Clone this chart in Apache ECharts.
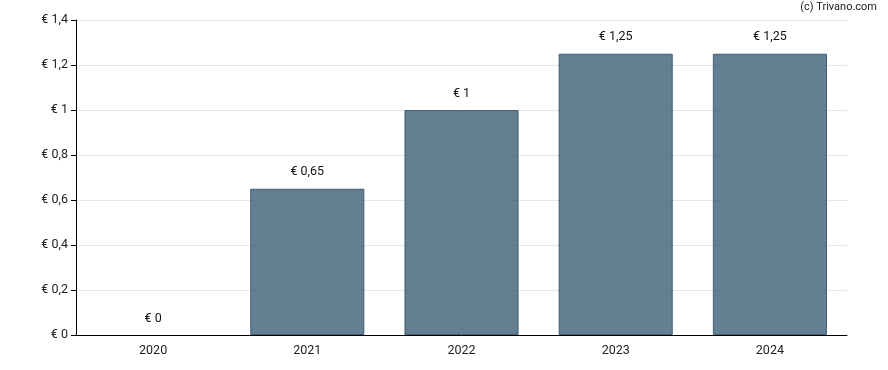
<!DOCTYPE html>
<html><head><meta charset="utf-8">
<script src="https://cdn.jsdelivr.net/npm/echarts@6/dist/echarts.min.js"></script>
<style>html,body{margin:0;padding:0;background:#fff}#c{width:888px;height:370px}</style>
</head><body><div id="c"></div>
<script>
var categories = ['2020','2021','2022','2023','2024'];
var values = [0, 0.65, 1, 1.25, 1.25];
var yTicks = [0, 0.2, 0.4, 0.6, 0.8, 1, 1.2, 1.4];

function fmt(v){ return '€ ' + String(Math.round(v*100)/100).replace('.', ','); }

var chart = echarts.init(document.getElementById('c'), null, {renderer:'canvas'});
chart.setOption({
  animation:false,
  textStyle:{fontFamily:'Roboto'},
  graphic:[{type:'text', right:11, top:2, style:{text:'(c) Trivano.com', font:'11px Roboto', fill:'#222'}}],
  grid:{left:76, right:41, top:20, bottom:35},
  xAxis:{type:'category', data:categories,
    axisLine:{lineStyle:{color:'#000', width:1}},
    axisTick:{alignWithLabel:true, length:5, lineStyle:{color:'#000'}},
    axisLabel:{color:'#222', fontSize:12.5, margin:9, fontFamily:'Roboto'}},
  yAxis:{type:'value', min:yTicks[0], max:yTicks[yTicks.length-1], interval:0.2,
    axisLine:{show:true, lineStyle:{color:'#000'}},
    axisTick:{show:true, length:5, lineStyle:{color:'#000'}},
    splitLine:{lineStyle:{color:'#e6e6e6'}},
    axisLabel:{color:'#222', fontSize:12.5, margin:8, fontFamily:'Roboto', formatter:fmt}},
  series:[{type:'bar', barWidth:'74%', z:1,
    data:values.map(function(v){ return {value:v, itemStyle:{borderWidth: v===0 ? 0 : 1}}; }),
    itemStyle:{color:'rgba(61,95,119,0.8)', borderColor:'rgba(55,85,108,0.9)', borderWidth:1},
    label:{show:true, position:'top', distance:10, color:'#111', fontSize:12.5, fontFamily:'Roboto',
      formatter:function(p){return fmt(p.value);}}}]
});
</script></body></html>
